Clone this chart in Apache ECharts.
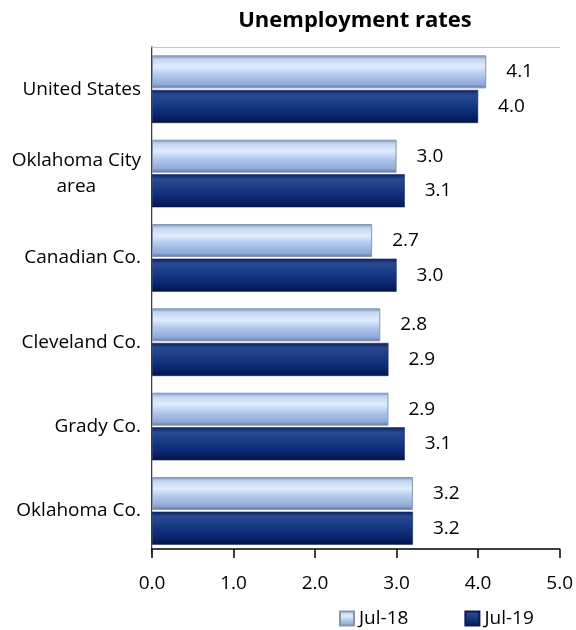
<!DOCTYPE html>
<html>
<head>
<meta charset="utf-8">
<script src="https://cdn.jsdelivr.net/npm/echarts@6/dist/echarts.min.js"></script>
<style>
  html, body { margin: 0; padding: 0; background: #fff; }
  #chart { width: 576px; height: 630px; }
</style>
</head>
<body>
<div id="chart"></div>
<script>
// categories listed bottom to top
const categories = ['Oklahoma Co.', 'Grady Co.', 'Cleveland Co.', 'Canadian Co.', 'Oklahoma City\narea', 'United States']
const jul18 = [3.2, 2.9, 2.8, 2.7, 3.0, 4.1]
const jul19 = [3.2, 3.1, 2.9, 3.0, 3.1, 4.0]
const seriesNames = ['Jul-18', 'Jul-19']

const font = 'Open Sans'

const lightBar = new echarts.graphic.LinearGradient(0, 0, 0, 1, [
  { offset: 0, color: '#7390bd' },
  { offset: 0.12, color: '#c2d6f1' },
  { offset: 0.35, color: '#e0edfc' },
  { offset: 0.6, color: '#afc8ec' },
  { offset: 0.88, color: '#8eaad6' },
  { offset: 1, color: '#5a74a2' },
])
const darkBar = new echarts.graphic.LinearGradient(0, 0, 0, 1, [
  { offset: 0, color: '#0a2260' },
  { offset: 0.15, color: '#294a92' },
  { offset: 0.35, color: '#1d3e88' },
  { offset: 0.7, color: '#0c2a76' },
  { offset: 1, color: '#031546' },
])

const chart = echarts.init(document.getElementById('chart'))

const valueLabel = {
  show: true,
  position: 'right',
  distance: 20,
  color: '#000',
  fontFamily: font,
  fontSize: 19,
  formatter: (p) => p.value.toFixed(1),
}

chart.setOption({
  backgroundColor: '#fff',
  textStyle: { fontFamily: font },
  title: {
    text: 'Unemployment rates',
    left: 350,
    textAlign: 'center',
    top: 5,
    textStyle: { fontFamily: font, fontSize: 22, fontWeight: 'bold', color: '#000' },
  },
  legend: {
    data: seriesNames,
    left: 339,
    top: 609,
    padding: 0,
    itemWidth: 14,
    itemHeight: 14,
    itemGap: 56,
    icon: 'rect',
    textStyle: { fontFamily: font, fontSize: 19, color: '#000' },
  },
  grid: { left: 152, right: 15, top: 47, bottom: 77 },
  xAxis: [
    {
      type: 'value',
      min: 0,
      max: 5,
      interval: 1,
      offset: -4,
      axisLine: { show: true, lineStyle: { color: '#000', width: 1.5 } },
      axisTick: { show: true, length: 9, lineStyle: { color: '#000', width: 1.5 } },
      splitLine: { show: false },
      axisLabel: {
        color: '#000',
        fontSize: 19,
        fontFamily: font,
        margin: 25,
        formatter: (v) => v.toFixed(1),
      },
    },
    {
      type: 'value',
      position: 'top',
      min: 0,
      max: 5,
      axisLine: { show: true, lineStyle: { color: '#c8c8c8', width: 1 } },
      axisTick: { show: false },
      axisLabel: { show: false },
      splitLine: { show: false },
    },
  ],
  yAxis: [
    {
      type: 'category',
      data: categories,
      axisLine: { show: true, lineStyle: { color: '#000', width: 1.5 } },
      axisTick: { show: false },
      axisLabel: {
        color: '#000',
        fontSize: 19,
        fontFamily: font,
        margin: 11,
        lineHeight: 26,
        formatter: (v) => v.split('\n').map((s) => '{c|' + s + '}').join('\n'),
        rich: { c: { align: 'center', fontSize: 19, fontFamily: font, color: '#000', lineHeight: 26 } },
      },
    },
    {
      type: 'category',
      position: 'right',
      data: categories,
      axisLine: { show: true, lineStyle: { color: '#c8c8c8', width: 1 } },
      axisTick: { show: false },
      axisLabel: { show: false },
    },
  ],
  series: [
    {
      name: 'Jul-18',
      type: 'bar',
      data: jul18,
      barWidth: 33,
      barGap: '5%',
      itemStyle: { color: lightBar, borderColor: '#8796ae', borderWidth: 1 },
      label: valueLabel,
    },
    {
      name: 'Jul-19',
      type: 'bar',
      data: jul19,
      barWidth: 33,
      barGap: '5%',
      itemStyle: { color: darkBar, borderColor: '#0a1a4a', borderWidth: 0.5 },
      label: valueLabel,
    },
  ],
})
</script>
</body>
</html>
